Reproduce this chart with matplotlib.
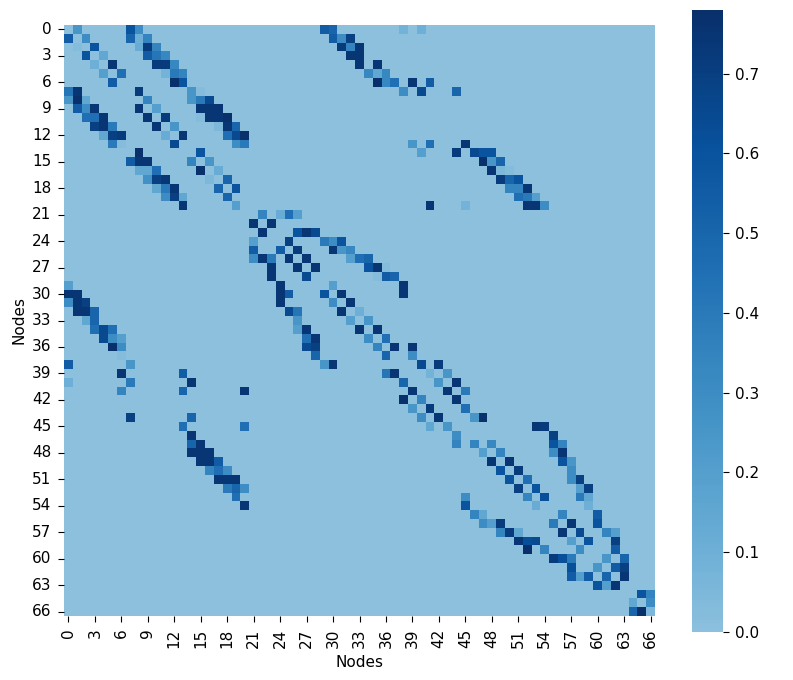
import matplotlib
matplotlib.use("Agg")
import matplotlib.pyplot as plt
from matplotlib.colors import ListedColormap
import numpy as np
import seaborn as sns

n_nodes = 67

# non-zero cells per row
row_cols = [
    [1, 7, 8, 29, 30, 38, 40],
    [0, 2, 7, 8, 9, 30, 31, 32],
    [1, 3, 8, 9, 10, 31, 32, 33],
    [2, 4, 9, 10, 11, 32, 33],
    [3, 5, 10, 11, 12, 33, 35],
    [4, 6, 11, 12, 13, 34, 35, 36],
    [5, 12, 13, 35, 36, 37, 39, 41],
    [0, 1, 8, 14, 15, 38, 40, 44],
    [0, 1, 2, 9, 14, 15, 16],
    [1, 2, 3, 8, 10, 15, 16, 17],
    [2, 3, 4, 9, 11, 15, 16, 17, 18],
    [3, 4, 5, 10, 12, 17, 18, 19],
    [4, 5, 6, 11, 13, 18, 19, 20],
    [5, 6, 12, 19, 20, 39, 41, 45],
    [8, 15, 40, 44, 46, 47, 48],
    [7, 8, 9, 14, 16, 47, 48, 49],
    [8, 9, 10, 15, 17, 48, 49, 50],
    [9, 10, 11, 16, 18, 49, 50, 51],
    [10, 11, 12, 17, 19, 50, 51, 52],
    [11, 12, 13, 18, 51, 52, 53],
    [13, 19, 41, 45, 52, 53, 54],
    [22, 24, 25, 26],
    [21, 23],
    [22, 26, 27, 28],
    [21, 25, 29, 30, 31],
    [21, 24, 26, 30, 31, 32],
    [21, 22, 23, 25, 27, 32, 33, 34],
    [23, 26, 28, 34, 35, 36],
    [23, 27, 35, 36, 37],
    [0, 24, 30, 38],
    [0, 1, 24, 25, 29, 31, 38],
    [0, 1, 2, 24, 30, 32],
    [1, 2, 3, 25, 26, 31, 33],
    [2, 3, 26, 32, 34],
    [3, 4, 5, 26, 27, 33, 35],
    [4, 5, 6, 27, 28, 34, 36],
    [5, 6, 27, 28, 35, 37, 39],
    [6, 28, 36, 39],
    [0, 7, 29, 30, 40, 42],
    [6, 13, 36, 37, 41, 43],
    [0, 7, 14, 38, 42, 44],
    [6, 13, 20, 39, 43, 45],
    [38, 40, 44],
    [39, 41, 45],
    [7, 14, 40, 42, 46, 47],
    [13, 20, 41, 43, 53, 54],
    [14, 44, 55],
    [14, 15, 44, 46, 48, 55, 56],
    [14, 15, 16, 47, 49, 55, 56],
    [15, 16, 17, 48, 50, 56, 57],
    [16, 17, 18, 49, 51, 57],
    [17, 18, 19, 50, 52, 57, 58],
    [18, 19, 20, 51, 53, 58, 59],
    [19, 45, 52, 54, 58, 59],
    [20, 45, 53, 59],
    [46, 47, 56, 60],
    [47, 48, 49, 55, 57, 60],
    [49, 50, 51, 56, 58, 61, 62],
    [51, 52, 53, 57, 59, 62],
    [52, 54, 58, 62],
    [55, 56, 57, 61, 63],
    [57, 60, 62, 63],
    [57, 58, 59, 61, 63],
    [60, 61, 62],
    [65, 66],
    [64, 66],
    [64, 65, 66],
]
row_vals = [
    [.25, .6, .3, .55, .5, .08, .1],
    [.55, .3, .5, .1, .35, .55, .3, .7],
    [.03, .6, .12, .72, .35, .72, .35, .75],
    [.6, .15, .55, .42, .33, .75, .75],
    [.1, .75, .72, .72, .33, .75, .75],
    [.2, .45, .08, .4, .35, .33, .15, .33],
    [.55, .78, .6, .78, .33, .45, .75, .55],
    [.42, .75, .72, .25, .02, .3, .65, .5],
    [.25, .78, .15, .35, .25, .4, .65],
    [.55, .3, .75, .75, .2, .75, .75, .75],
    [.45, .45, .75, .75, .72, .02, .75, .75, .78],
    [.7, .75, .4, .75, .25, .05, .75, .5],
    [.15, .7, .72, .12, .75, .45, .65, .78],
    [.4, .02, .65, .3, .4, .25, .45, .75],
    [.78, .6, .2, .72, .65, .6, .6],
    [.55, .75, .75, .35, .25, .78, .25, .5],
    [.15, .15, .45, .78, .12, .75, .05, .03],
    [.28, .7, .75, .05, .5, .72, .5, .6],
    [.15, .4, .75, .5, .6, .35, .35, .75],
    [.3, .7, .15, .5, .45, .4, .2],
    [.75, .2, .75, .08, .75, .75, .3],
    [.35, .12, .45, .2],
    [.75, .75],
    [.75, .6, .75, .65],
    [.2, .7, .4, .3, .6],
    [.55, .55, .72, .75, .25, .33],
    [.3, .75, .4, .75, .75, .2, .45, .5],
    [.75, .75, .75, .6, .75, .03],
    [.75, .65, .02, .55, .5],
    [.2, .75, .2, .75],
    [.75, .75, .75, .55, .6, .75, .75],
    [.3, .75, .7, .75, .3, .75],
    [.75, .75, .5, .65, .42, .75, .1],
    [.15, .5, .25, .2, .25],
    [.45, .65, .45, .2, .75, .75, .75],
    [.65, .3, .2, .45, .75, .3, .45],
    [.78, .3, .65, .7, .35, .75, .75],
    [.02, .5, .5, .3],
    [.55, .25, .25, .75, .65, .72],
    [.75, .55, .42, .75, .08, .25],
    [.1, .4, .75, .5, .25, .75],
    [.35, .5, .75, .75, .75, .4],
    [.78, .35, .75],
    [.25, .72, .45],
    [.7, .5, .3, .75, .25, .78],
    [.45, .45, .15, .25, .75, .72],
    [.75, .3, .7],
    [.5, .75, .35, .35, .33, .6, .35],
    [.75, .75, .75, .2, .35, .3, .75],
    [.75, .75, .55, .75, .75, .6, .25],
    [.35, .45, .3, .6, .72, .3],
    [.75, .75, .75, .6, .45, .3, .7],
    [.4, .5, .3, .7, .6, .2, .7],
    [.45, .3, .35, .62, .4, .15],
    [.75, .6, .12, .1],
    [.35, .15, .35, .55],
    [.3, .2, .72, .4, .75, .6],
    [.35, .72, .15, .75, .65, .35, .2],
    [.75, .62, .65, .2, .6, .7],
    [.78, .35, .3, .55],
    [.72, .62, .4, .25, .5],
    [.62, .25, .55, .7],
    [.55, .2, .55, .5, .75],
    [.6, .2, .75],
    [.6, .35],
    [.15, .3],
    [.5, .78, .05],
]

matrix = np.zeros((n_nodes, n_nodes))
for r in range(n_nodes):
    for c, v in zip(row_cols[r], row_vals[r]):
        matrix[r, c] = v

# only the upper part of Blues shows in the picture
cmap = ListedColormap(plt.cm.Blues(np.linspace(0.42, 1.0, 256)))

plt.rcParams["font.size"] = 11
plt.rcParams["xtick.major.size"] = 4.5
plt.rcParams["ytick.major.size"] = 4.5
plt.rcParams["xtick.major.pad"] = 4.5
plt.rcParams["ytick.major.pad"] = 4.5

W, H = 793, 680
fig = plt.figure(figsize=(W / 100, H / 100), dpi=100)
ax = fig.add_axes([64 / W, 1 - 616 / H, 591 / W, 591 / H])
cax = fig.add_axes([692 / W, 1 - 631.7 / H, 31 / W, 621.7 / H])

sns.heatmap(matrix, cmap=cmap, vmin=0, vmax=0.78, ax=ax, cbar_ax=cax,
            xticklabels=3, yticklabels=3)
ax.set_xlabel("Nodes", labelpad=5)
ax.set_ylabel("Nodes", labelpad=4)
ax.tick_params(axis="x", labelrotation=90, labelsize=11)
ax.tick_params(axis="y", labelrotation=0, labelsize=11)

fig.savefig("out.png", dpi=100)
